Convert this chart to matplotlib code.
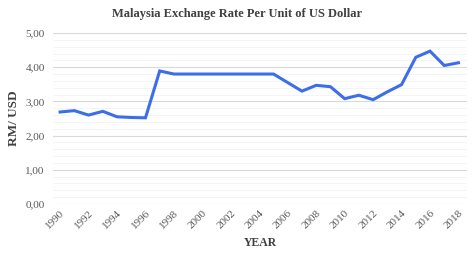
import matplotlib
matplotlib.use("Agg")
import matplotlib.pyplot as plt
from matplotlib.ticker import MultipleLocator, FuncFormatter

years = list(range(1990, 2019))
rates = [2.69, 2.73, 2.60, 2.71, 2.55, 2.53, 2.52, 3.89, 3.80, 3.80,
         3.80, 3.80, 3.80, 3.80, 3.80, 3.80, 3.55, 3.30, 3.47, 3.43,
         3.08, 3.18, 3.05, 3.28, 3.49, 4.29, 4.47, 4.05, 4.13]
xticks = list(range(1990, 2019, 2))

plt.rcParams['font.family'] = ['Liberation Serif', 'DejaVu Serif']

fig = plt.figure(figsize=(4.74, 2.62), dpi=100)
ax = fig.add_axes([53/474, 1 - 204/262, (467-53)/474, (204-33)/262])

ax.plot(years, rates, color='#3b6ee8', linewidth=2.2, solid_joinstyle='miter', zorder=3)

ax.set_xlim(1989.5, 2018.6)
ax.set_ylim(0, 5)
ax.yaxis.set_major_locator(MultipleLocator(1))
ax.yaxis.set_minor_locator(MultipleLocator(0.2))
ax.yaxis.set_major_formatter(FuncFormatter(lambda v, p: f"{v:.2f}".replace('.', ',')))
ax.set_xticks(xticks)
ax.set_xticklabels([str(x) for x in xticks], rotation=45, ha='right', rotation_mode='anchor')

ax.grid(axis='y', which='major', color='#d9d9d9', linewidth=0.8)
ax.grid(axis='y', which='minor', color='#f2f2f2', linewidth=0.6)
ax.set_axisbelow(True)
for s in ax.spines.values():
    s.set_visible(False)
ax.tick_params(axis='both', which='both', length=0, labelsize=8, labelcolor='#595959')
ax.tick_params(axis='y', pad=6)
ax.tick_params(axis='x', pad=3)

ax.set_ylabel('RM/ USD', fontsize=9.5, fontweight='bold', color='#404040', labelpad=4)
ax.set_xlabel('YEAR', fontsize=8.5, fontweight='bold', color='#404040', labelpad=5)
fig.text(0.5, 1 - 14/262, 'Malaysia Exchange Rate Per Unit of US Dollar', ha='center', va='center',
         fontsize=9, fontweight='bold', color='#404040')

fig.savefig('out.png', dpi=100)
